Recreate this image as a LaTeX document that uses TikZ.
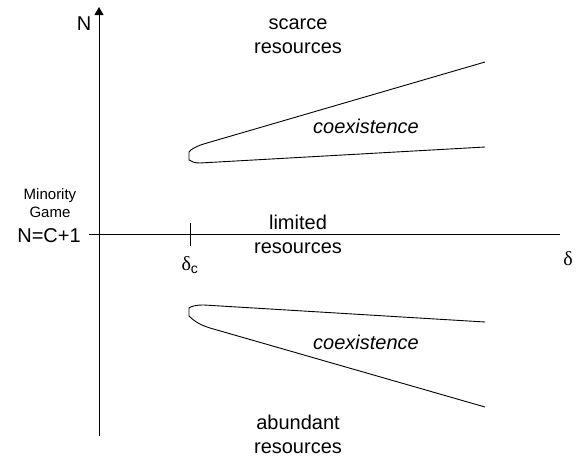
\documentclass[tikz,border=0pt]{standalone}
\usepackage{fontspec}
\setmainfont{Liberation Sans}
\newfontfamily\grk{Liberation Serif}
\usetikzlibrary{arrows.meta,positioning}

\begin{document}
\begin{tikzpicture}[x=1pt,y=-1pt,
    lbl/.style={font=\fontsize{20}{23.5}\selectfont,align=center,inner sep=0pt,anchor=base},
    small/.style={font=\fontsize{15}{18}\selectfont,align=center,inner sep=0pt,anchor=base},
    ax/.style={line width=0.8pt},
    bnd/.style={line width=0.9pt,line join=round},
]
\useasboundingbox (0,0) rectangle (586,464);

% Axes
\coordinate (ybot) at (99,436);
\coordinate (ytop) at (99,7);
\coordinate (xleft) at (89,234);
\coordinate (xright) at (560,234);
\draw[ax,-{Triangle[length=8pt,width=9pt]}] (ybot) -- (ytop);
\draw[ax] (xleft) -- (xright);

% Critical delta
\coordinate (dtop) at (190,223);
\coordinate (dbot) at (190,246);
\draw[ax] (dtop) -- (dbot);
\node[lbl,font=\fontsize{20}{22}\selectfont] (dc) at (190,270) {{\grk δ}\textsubscript{c}};
\node[lbl,font=\fontsize{20}{22}\selectfont] (d) at (568,265) {\grk δ};
\node[lbl] (N) at (84,30) {N};

% Upper boundary
\draw[bnd] (485,62) -- (207,143) .. controls (196,146) and (190,150) .. (189,152)
  -- (189,160) .. controls (192,162) and (195,163) .. (200,163) -- (485,147);

% Lower boundary
\draw[bnd] (485,322) -- (204,305) .. controls (196,305) and (192,306) .. (189,308)
  -- (189,316) .. controls (194,321) and (200,325) .. (210,328) -- (485,407);

% Region labels
\node[lbl] (scarce) at (298,53) {scarce\\resources};
\node[lbl] (limited) at (298,253) {limited\\resources};
\node[lbl] (abund) at (298,453) {abundant\\resources};
\node[lbl,font=\fontsize{20}{23.5}\itshape] (coexU) at (366,133) {coexistence};
\node[lbl,font=\fontsize{20}{23.5}\itshape] (coexL) at (366,349) {coexistence};

% Minority game point
\node[small] (mg) at (50,217) {Minority\\Game};
\node[lbl] (ncp) at (49,242) {N=C+1};

\end{tikzpicture}
\end{document}
